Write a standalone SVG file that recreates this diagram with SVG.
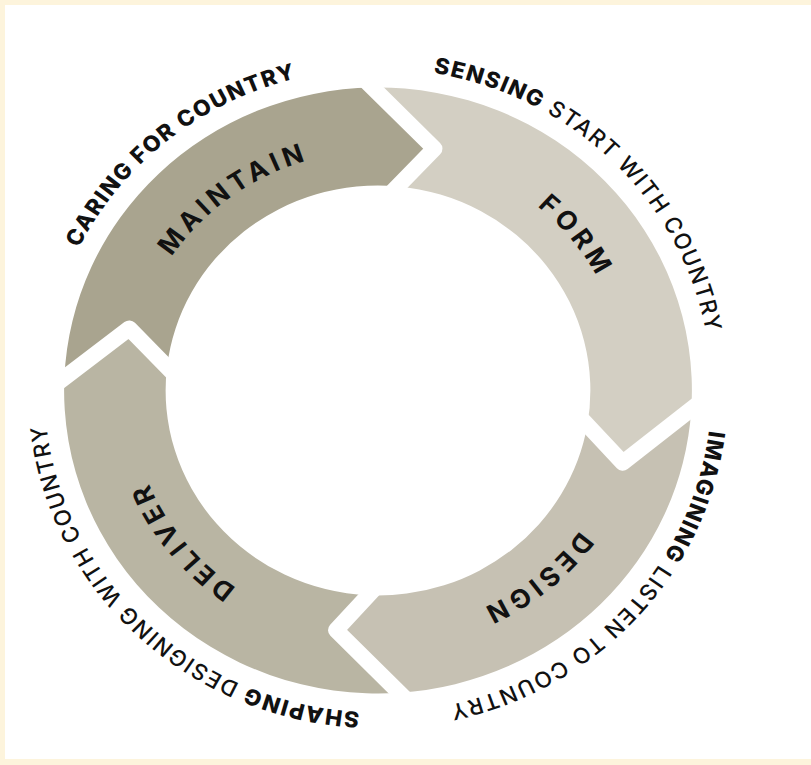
<svg xmlns="http://www.w3.org/2000/svg" width="811" height="765" viewBox="0 0 811 765">
  <defs>
    <style>
      .lbl { font-family: Inter, "Liberation Sans", sans-serif; font-size: 26px; font-weight: 700; letter-spacing: 4.5px; fill: #111; }
      .out { font-family: Inter, "Liberation Sans", sans-serif; font-size: 22px; font-weight: 500; letter-spacing: 1.5px; fill: #111; }
      .b { font-weight: 800; }
      .gap { fill: none; stroke: #ffffff; stroke-width: 16; stroke-linejoin: round; stroke-linecap: butt; }
    </style>
    <path id="pIn" d="M 0,-240 A 240 240 0 0 1 0,240 A 240 240 0 0 1 0,-240"/>
    <path id="pOut" d="M 0,-322 A 322 322 0 0 1 0,322 A 322 322 0 0 1 0,-322"/>
  </defs>
  <rect x="0" y="0" width="811" height="765" fill="#fdf4dc"/>
  <rect x="5" y="5" width="806" height="754" fill="#ffffff"/>
  <g transform="translate(378,390.5) scale(1.036,1)">
    <g id="maintain">
      <path fill="#a9a48f" d="M -302.73,-12.69 A 303 303 0 0 1 -5.29,-302.95 L 54.5,-241.9 L 18.94,-204.12 A 205 205 0 0 0 -203.64,-23.56 L -240.10,-62.09 Z"/>
      <text class="lbl"><textPath href="#pIn" startOffset="90%" text-anchor="middle">MAINTAIN</textPath></text>
      <text class="out"><textPath href="#pOut" startOffset="89.2%" text-anchor="middle"><tspan class="b">CARING FOR COUNTRY</tspan></textPath></text>
    </g>
    <g id="form">
      <path fill="#d3cfc3" d="M -5.29,-302.95 A 303 303 0 0 1 302.43,18.50 L 236.21,72.22 L 202.07,34.54 A 205 205 0 0 0 18.94,-204.12 L 54.5,-241.9 Z"/>
      <text class="lbl"><textPath href="#pIn" startOffset="14.2%" text-anchor="middle">FORM</textPath></text>
      <text class="out"><textPath href="#pOut" startOffset="12.4%" text-anchor="middle"><tspan class="b">SENSING</tspan> START WITH COUNTRY</textPath></text>
    </g>
    <g id="design">
      <path fill="#c6c1b3" d="M 302.43,18.50 A 303 303 0 0 1 20.61,302.30 L -40.53,239.60 L -9.30,204.79 A 205 205 0 0 0 202.07,34.54 L 236.21,72.22 Z"/>
      <text class="lbl"><textPath href="#pIn" startOffset="39.1%" text-anchor="middle">DESIGN</textPath></text>
      <text class="out"><textPath href="#pOut" startOffset="36.8%" text-anchor="middle"><tspan class="b">IMAGINING</tspan> LISTEN TO COUNTRY</textPath></text>
    </g>
    <g id="deliver">
      <path fill="#b9b5a3" d="M 20.61,302.30 A 303 303 0 0 1 -302.73,-12.69 L -240.10,-62.09 L -203.64,-23.56 A 205 205 0 0 0 -9.30,204.79 L -40.53,239.60 Z"/>
      <text class="lbl"><textPath href="#pIn" startOffset="64.3%" text-anchor="middle">DELIVER</textPath></text>
      <text class="out"><textPath href="#pOut" startOffset="62.1%" text-anchor="middle"><tspan class="b">SHAPING</tspan> DESIGNING WITH COUNTRY</textPath></text>
    </g>
    <g id="connectors">
      <polyline class="gap" vector-effect="non-scaling-stroke" points="-15.8,-313.7 54.5,-241.9 8.6,-193.2"/>
      <polyline class="gap" vector-effect="non-scaling-stroke" points="313.3,9.7 236.21,72.22 192.7,24.1"/>
      <polyline class="gap" vector-effect="non-scaling-stroke" points="31.1,313.0 -40.53,239.60 0.7,193.6"/>
      <polyline class="gap" vector-effect="non-scaling-stroke" points="-314.5,-3.4 -240.10,-62.09 -193.3,-12.7"/>
    </g>
  </g>
</svg>
